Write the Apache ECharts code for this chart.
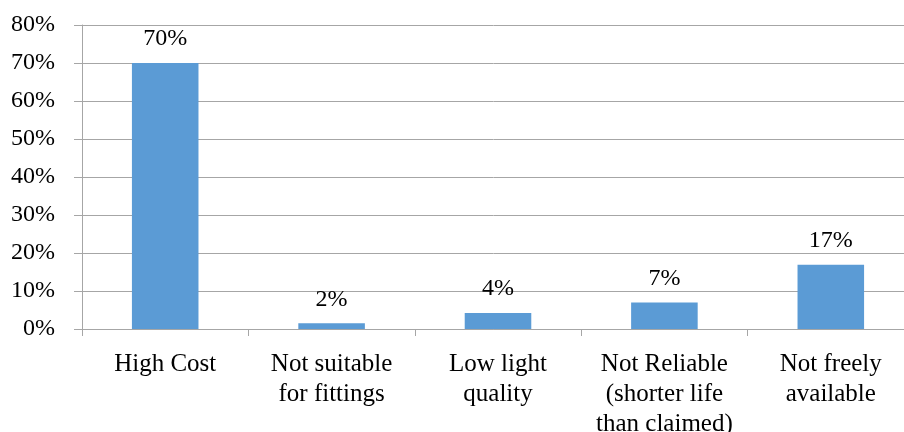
<!DOCTYPE html>
<html>
<head>
<meta charset="utf-8">
<script src="https://cdn.jsdelivr.net/npm/echarts@6/dist/echarts.min.js"></script>
<style>
html,body{margin:0;padding:0;background:#fff;}
#chart{width:904px;height:432px;}
</style>
</head>
<body>
<div id="chart"></div>
<script>
const categories = [
  "High Cost",
  "Not suitable\nfor fittings",
  "Low light\nquality",
  "Not Reliable\n(shorter life\nthan claimed)",
  "Not freely\navailable"
];
const values = [70, 1.5, 4.2, 7.0, 16.9];
const yTicks = { min: 0, max: 80, interval: 10 };

const font = "'Liberation Serif','Times New Roman',serif";
const chart = echarts.init(document.getElementById('chart'), null, {renderer: 'canvas'});
chart.setOption({
  animation: false,
  grid: { left: 82, top: 25, width: 832, height: 304, containLabel: false, outerBoundsMode: 'none' },
  xAxis: {
    type: 'category',
    data: categories,
    axisLine: { show: true, lineStyle: { color: '#a6a6a6', width: 1 } },
    axisTick: { show: true, length: 7, alignWithLabel: false, lineStyle: { color: '#a6a6a6' } },
    axisLabel: { color: '#000', fontFamily: font, fontSize: 25, lineHeight: 30, margin: 20, interval: 0 }
  },
  yAxis: {
    type: 'value',
    min: yTicks.min, max: yTicks.max, interval: yTicks.interval,
    axisLine: { show: true, lineStyle: { color: '#a6a6a6', width: 1 } },
    axisTick: { show: true, length: 8, lineStyle: { color: '#a6a6a6' } },
    splitLine: { show: true, lineStyle: { color: '#a6a6a6', width: 1 } },
    axisLabel: { color: '#000', fontFamily: font, fontSize: 24, margin: 27, formatter: '{value}%' }
  },
  series: [{
    type: 'bar',
    data: values,
    barWidth: '40%',
    itemStyle: { color: '#5b9bd5' },
    label: {
      show: true, position: 'top', distance: 12,
      color: '#000', fontFamily: font, fontSize: 24,
      formatter: p => Math.round(p.value) + '%'
    }
  }]
});
</script>
</body>
</html>
